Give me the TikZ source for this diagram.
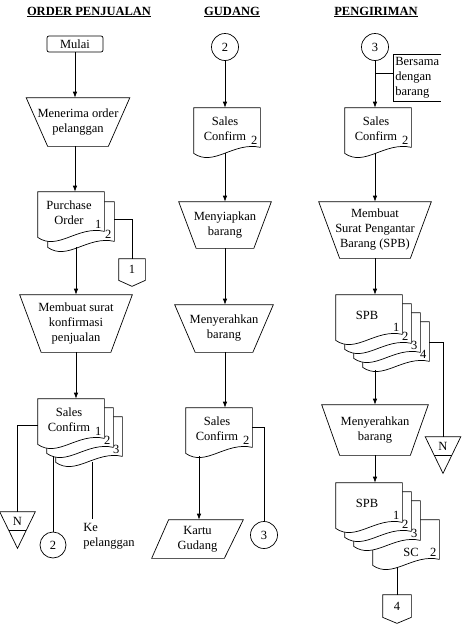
\documentclass[tikz,border=0pt]{standalone}
\usepackage{fontspec}
\setmainfont{Liberation Serif}
\usetikzlibrary{arrows.meta, calc}

\newcommand{\docout}[3]{%
  \draw[fill=white] (#1.north west) -- (#1.north east) -- ([yshift=6pt]#1.south east)
    .. controls ([xshift=6.6pt,yshift=12pt]#1.south) and ([xshift=-13.2pt,yshift=-14pt]#1.south) .. (#1.south west) -- cycle;
  \node[align=center] (#1-txt) at ([xshift=-2pt,yshift=2pt]#1.center) {#2};
  \node (#1-no) at ([xshift=-6pt,yshift=13pt]#1.south east) {#3};}
\newcommand{\manop}[2]{\draw (#1.north west) -- (#1.north east) -- ([xshift=-#2pt]#1.south east) -- ([xshift=#2pt]#1.south west) -- cycle;}
\newcommand{\offpage}[1]{\draw (#1.north west) -- (#1.north east) -- (#1.south east) -- ([yshift=-6pt]#1.south) -- (#1.south west) -- cycle;}
\newcommand{\merge}[1]{\draw (#1.north west) -- (#1.north east) -- ([yshift=-18pt]#1.south) -- cycle;
  \draw ([xshift=-8.75pt]#1.south) -- ([xshift=8.75pt]#1.south);}

\begin{document}
\begin{tikzpicture}[x=1pt, y=-1pt, line width=0.7pt, font=\fontsize{12.5}{15}\selectfont,
    arr/.style={-{Latex[length=6pt,width=4.5pt]}},
    docbox/.style={minimum width=66pt, minimum height=45pt, inner sep=0pt},
    opbox/.style={align=center, inner sep=0pt},
    conn/.style={draw, circle, minimum size=27pt, inner sep=0pt},
    mark box/.style={minimum width=35pt, minimum height=18pt, inner sep=0pt},
    title/.style={font=\fontsize{12.5}{15}\selectfont\bfseries}]
    \useasboundingbox (0,0) rectangle (466,635);

    \node[title] (t1) at (89,12) {\underline{ORDER PENJUALAN}};
    \node[title] (t2) at (232,12) {\underline{GUDANG}};
    \node[title] (t3) at (376,12) {\underline{PENGIRIMAN}};

    % order penjualan
    \node[draw, rounded corners=2pt, minimum width=56pt, minimum height=16pt, inner sep=0pt] (mulai) at (75,44) {Mulai};
    \node[opbox, minimum width=103pt, minimum height=48pt] (trap1) at (78,122) {Menerima order\\pelanggan};
    \manop{trap1}{21.5}
    \node[docbox] (po2) at (81,224.5) {};
    \docout{po2}{}{2}
    \node[docbox] (po) at (71,214.5) {};
    \docout{po}{Purchase\\Order}{1}
    \node[minimum width=26pt, minimum height=21pt, inner sep=0pt] (opc1) at (132,269.5) {1};
    \offpage{opc1}
    \node[opbox, minimum width=112pt, minimum height=57pt] (trap2) at (76,323.5) {Membuat surat\\konfirmasi\\penjualan};
    \manop{trap2}{21.5}
    \node[docbox] (scl3) at (89,439.5) {};
    \docout{scl3}{}{3}
    \node[docbox] (scl2) at (80,430.5) {};
    \docout{scl2}{}{2}
    \node[docbox] (scl) at (71,421.5) {};
    \docout{scl}{Sales\\Confirm}{1}
    \node[mark box] (n1) at (17.5,521) {N};
    \merge{n1}
    \node[conn, minimum size=26pt] (c2a) at (53,545) {2};
    \node[align=left] (kep) at (109,536.5) {Ke\\pelanggan};
    \coordinate (kepin) at (92,519);

    % gudang
    \node[conn] (c2b) at (225,47) {2};
    \node[docbox] (scm1) at (227,130.5) {};
    \docout{scm1}{Sales\\Confirm}{2}
    \node[opbox, minimum width=92pt, minimum height=46pt] (trap3) at (225,225) {Menyiapkan\\barang};
    \manop{trap3}{17.5}
    \node[opbox, minimum width=98pt, minimum height=47pt] (trap4) at (224,328.5) {Menyerahkan\\barang};
    \manop{trap4}{20.5}
    \node[docbox] (scm2) at (219,430.5) {};
    \docout{scm2}{Sales\\Confirm}{2}
    \node[opbox, minimum width=91pt, minimum height=38pt] (kartu) at (197.5,539) {Kartu\\Gudang};
    \draw ([xshift=17pt]kartu.north west) -- (kartu.north east) -- ([xshift=-19pt]kartu.south east) -- (kartu.south west) -- cycle;
    \node[conn] (c3a) at (264,535) {3};

    % pengiriman
    \node[conn] (c3b) at (375,47) {3};
    \node[align=left, anchor=west, minimum height=46pt, inner xsep=2pt, inner ysep=0pt] (ket) at (393,78) {Bersama\\dengan\\barang};
    \draw (ket.north east) -- (ket.north west) -- (ket.south west) -- (ket.south east);
    \node[docbox] (scr) at (378,130.5) {};
    \docout{scr}{Sales\\Confirm}{2}
    \node[opbox, minimum width=112pt, minimum height=56pt] (trap5) at (375,230) {Membuat\\Surat Pengantar\\Barang (SPB)};
    \manop{trap5}{21}
    \node[docbox] (spbd) at (396,344.5) {};
    \docout{spbd}{}{4}
    \node[docbox] (spbc) at (387,335.5) {};
    \docout{spbc}{}{3}
    \node[docbox] (spbb) at (378,326.5) {};
    \docout{spbb}{}{2}
    \node[docbox] (spba) at (369,317.5) {};
    \docout{spba}{SPB}{1}
    \node[mark box] (n2) at (443,446) {N};
    \merge{n2}
    \node[opbox, minimum width=106pt, minimum height=50pt] (trap6) at (375,430) {Menyerahkan\\barang};
    \manop{trap6}{18}
    \node[docbox] (scd) at (406,542.5) {};
    \docout{scd}{}{2}
    \node (sclbl) at (411,552) {SC};
    \node[docbox] (spbf) at (387,523.5) {};
    \docout{spbf}{}{3}
    \node[docbox] (spbe) at (378,514.5) {};
    \docout{spbe}{}{2}
    \node[docbox] (spbx) at (369,505.5) {};
    \docout{spbx}{SPB}{1}
    \node[minimum width=28pt, minimum height=22pt, inner sep=0pt] (opc4) at (397,606) {4};
    \offpage{opc4}

    % arus
    \draw[arr] (mulai.south) -- (mulai.south |- trap1.north);
    \draw[arr] (mulai.south |- trap1.south) -- (mulai.south |- po.north);
    \draw ([yshift=5pt]po2.east) -| (opc1.north);
    \draw[arr] (trap2.north |- po2.south) -- (trap2.north);
    \draw[arr] (trap2.south) -- (trap2.south |- scl.north);
    \draw ([yshift=-4pt]scl.west) -| (n1.north);
    \draw ([yshift=-3pt]c2a.north |- scl2.south) -- (c2a.north);
    \draw (kepin |- scl3.south) -- (kepin);

    \draw[arr] (c2b.south) -- (c2b.south |- scm1.north);
    \draw[arr] (c2b.south |- scm1.south) -- (trap3.north);
    \draw[arr] (trap3.south) -- (trap3.south |- trap4.north);
    \draw[arr] (trap3.south |- trap4.south) -- (trap3.south |- scm2.north);
    \draw[arr] ([xshift=1.5pt,yshift=-3pt]kartu.north |- scm2.south) -- ([xshift=1.5pt]kartu.north);
    \draw ([yshift=3pt]scm2.east) -| (c3a.north);

    \draw[arr] (c3b.south) -- (c3b.south |- scr.north);
    \draw ([yshift=5pt]ket.west) -- ([yshift=5pt]ket.west -| c3b.south);
    \draw[arr] (c3b.south |- scr.south) -- (trap5.north);
    \draw[arr] (trap5.south) -- (trap5.south |- spba.north);
    \draw ([yshift=2.5pt]spbd.east) -| (n2.north);
    \draw[arr] ([yshift=-3pt]trap6.north |- spbd.south) -- (trap6.north);
    \draw[arr] (trap6.south) -- (trap6.south |- spbx.north);
    \draw ([yshift=-2pt]opc4.north |- scd.south) -- (opc4.north);
\end{tikzpicture}
\end{document}
